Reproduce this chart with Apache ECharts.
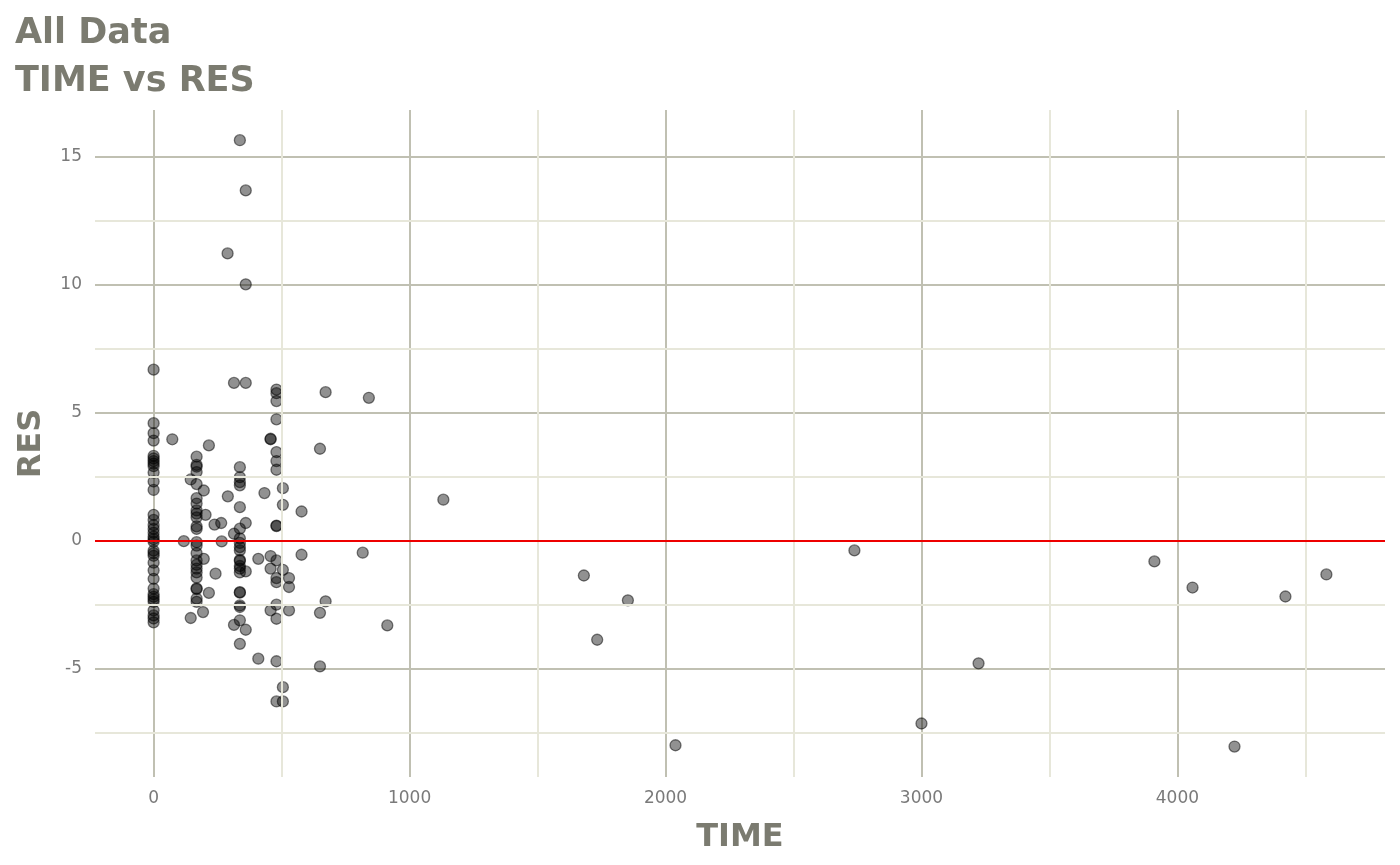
<!DOCTYPE html>
<html>
<head>
<meta charset="utf-8">
<script src="https://cdn.jsdelivr.net/npm/echarts@6/dist/echarts.min.js"></script>
<style>html,body{margin:0;padding:0;background:#fff;}#chart{width:1400px;height:865px;}</style>
</head>
<body>
<div id="chart"></div>
<script>
// RES values by TIME column
const res_t0 = [6.67, 4.58, 4.19, 3.9, 3.3, 3.2, 3.1, 3.0, 2.9, 2.65, 2.3, 1.97, 1.0, 0.8, 0.6, 0.45, 0.3, 0.15, 0.05, -0.05, -0.4, -0.5, -0.6, -0.87, -1.17, -1.5, -1.88, -2.1, -2.2, -2.3, -2.4, -2.73, -2.93, -3.05, -3.2];
const res_t168 = [3.27, 2.95, 2.88, 2.67, 2.2, 1.65, 1.44, 1.17, 1.05, 0.9, 0.55, 0.45, -0.07, -0.2, -0.5, -0.78, -0.95, -1.1, -1.25, -1.45, -1.87, -1.9, -2.27, -2.4];
const res_t337 = [15.63, 2.86, 2.47, 2.28, 2.15, 1.3, 0.46, 0.08, -0.1, -0.26, -0.39, -0.76, -0.8, -1.0, -1.1, -1.25, -2.02, -2.04, -2.54, -2.6, -3.12, -4.04];
const res_t360 = [13.67, 10.0, 6.15, 0.68, -1.21, -3.49];
const res_t480 = [5.89, 5.75, 5.44, 4.73, 3.45, 3.1, 2.76, 0.56, 0.58, -0.78, -1.47, -1.63, -2.51, -3.06, -4.72, -6.29];
// remaining individual observations
const other_time = [73, 118, 145, 145, 196, 203, 196, 193, 216, 216, 238, 242, 264, 266, 289, 290, 314, 314, 314, 409, 409, 433, 457, 457, 457, 457, 457, 505, 505, 505, 505, 505, 529, 529, 529, 578, 578, 650, 650, 650, 672, 672, 817, 841, 913, 1132, 1681, 1733, 1853, 2039, 2738, 3000, 3223, 3910, 4059, 4223, 4422, 4582];
const other_res  = [3.95, -0.03, 2.38, -3.03, 1.95, 1.0, -0.72, -2.8, 3.71, -2.05, 0.62, -1.3, 0.68, -0.04, 11.21, 1.72, 6.15, 0.26, -3.3, -0.72, -4.62, 1.85, 3.97, 3.95, -0.61, -1.1, -2.73, 2.04, 1.39, -1.15, -5.73, -6.29, -1.47, -1.82, -2.73, 1.13, -0.56, 3.58, -2.83, -4.92, 5.79, -2.38, -0.48, 5.57, -3.32, 1.59, -1.37, -3.88, -2.34, -8.0, -0.39, -7.15, -4.8, -0.82, -1.84, -8.05, -2.19, -1.33];

const xTicks = [0, 1000, 2000, 3000, 4000];
const yTicks = [-5, 0, 5, 10, 15];
const xMinor = [500, 1500, 2500, 3500, 4500];
const yMinor = [-7.5, -2.5, 2.5, 7.5, 12.5];
const refLine = 0;

const points = [];
res_t0.forEach(v => points.push([0, v]));
res_t168.forEach(v => points.push([168, v]));
res_t337.forEach(v => points.push([337, v]));
res_t360.forEach(v => points.push([360, v]));
res_t480.forEach(v => points.push([480, v]));
other_time.forEach((t, i) => points.push([t, other_res[i]]));

const labelColor = '#7a7a7a';
const titleColor = '#7b7b70';
const majorColor = '#c0c0b2';
const minorColor = '#e7e7da';
const FONT = 'DejaVu Sans';

const chart = echarts.init(document.getElementById('chart'), null, {renderer: 'canvas'});
chart.setOption({
  animation: false,
  backgroundColor: '#ffffff',
  title: {
    text: 'All Data\nTIME vs RES',
    left: 15, top: 10, padding: 0,
    textStyle: {fontFamily: FONT, fontWeight: 'bold', fontSize: 35, lineHeight: 48, color: titleColor}
  },
  grid: {left: 95, right: 15, top: 110, bottom: 88, containLabel: false},
  xAxis: {
    type: 'value', min: -229, max: 4811,
    name: 'TIME', nameLocation: 'middle', nameGap: 45,
    nameTextStyle: {fontFamily: FONT, fontWeight: 'bold', fontSize: 32, color: titleColor},
    axisLine: {show: false},
    axisTick: {show: false, customValues: xTicks},
    axisLabel: {customValues: xTicks, formatter: v => String(v), fontFamily: FONT, fontSize: 17, color: labelColor, margin: 13},
    splitLine: {show: true, lineStyle: {color: majorColor, width: 2}}
  },
  yAxis: {
    type: 'value', min: -9.24, max: 16.81,
    name: 'RES', nameLocation: 'middle', nameGap: 47,
    nameTextStyle: {fontFamily: FONT, fontWeight: 'bold', fontSize: 32, color: titleColor},
    axisLine: {show: false},
    axisTick: {show: false, customValues: yTicks},
    axisLabel: {customValues: yTicks, formatter: v => String(v), fontFamily: FONT, fontSize: 17, color: labelColor, margin: 13},
    splitLine: {show: true, lineStyle: {color: majorColor, width: 2}}
  },
  series: [
    {
      type: 'scatter', data: [], z: 1, silent: true,
      markLine: {
        silent: true, symbol: 'none', label: {show: false}, animation: false,
        lineStyle: {color: minorColor, width: 2, type: 'solid'},
        emphasis: {disabled: true},
        data: xMinor.map(v => ({xAxis: v})).concat(yMinor.map(v => ({yAxis: v})))
      }
    },
    {
      type: 'scatter', data: points, z: 3, symbol: 'circle', symbolSize: 11,
      itemStyle: {color: 'rgba(0,0,0,0.54)', borderColor: 'rgba(0,0,0,0.62)', borderWidth: 1.3},
      emphasis: {disabled: true}, silent: true
    },
    {
      type: 'scatter', data: [], z: 4, silent: true,
      markLine: {
        silent: true, symbol: 'none', label: {show: false}, animation: false,
        lineStyle: {color: '#ee0000', width: 2, type: 'solid'},
        emphasis: {disabled: true},
        data: [{yAxis: refLine}]
      }
    }
  ]
});
</script>
</body>
</html>
